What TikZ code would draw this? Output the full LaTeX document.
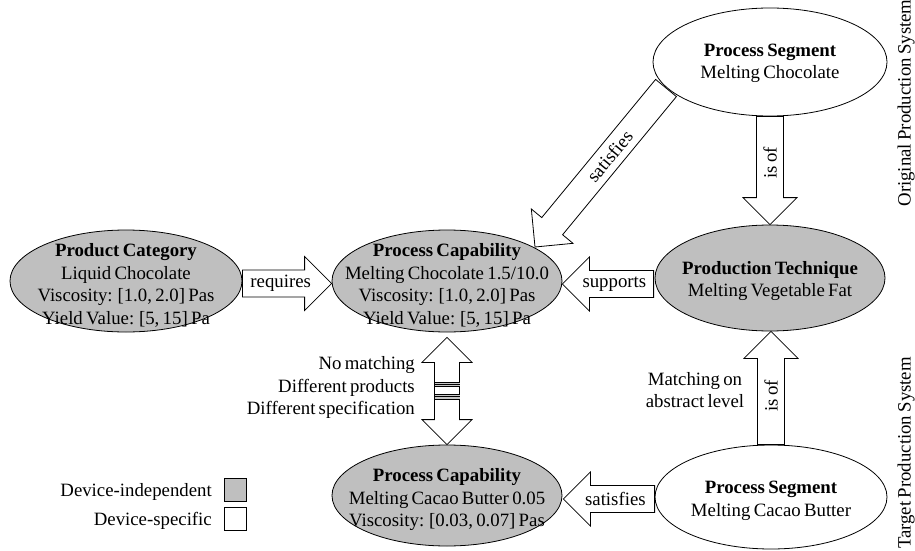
\documentclass[tikz,border=0pt]{standalone}
\usepackage{fontspec}
\setmainfont[WordSpace=0.7]{Liberation Serif}
\usetikzlibrary{calc,shapes.geometric}
\definecolor{devgray}{RGB}{191,191,191}

% block arrow geometry: body half width, head half width, head length
\newcommand\arrbw{13.5pt}
\newcommand\arrhw{27pt}
\newcommand\arrhl{27pt}
% \blockarrow{start}{tip}{label}{label rotation}
\newcommand\blockarrow[4]{%
  \coordinate (ba-s) at #1;
  \coordinate (ba-t) at #2;
  \coordinate (ba-h) at ($(ba-t)!\arrhl!(ba-s)$);
  \draw[barrow] ($(ba-s)!\arrbw!90:(ba-t)$) -- ($(ba-h)!\arrbw!90:(ba-t)$)
    -- ($(ba-h)!\arrhw!90:(ba-t)$) -- (ba-t) -- ($(ba-h)!\arrhw!-90:(ba-t)$)
    -- ($(ba-h)!\arrbw!-90:(ba-t)$) -- ($(ba-s)!\arrbw!-90:(ba-t)$) -- cycle;
  \node[edgelabel, rotate=#4] at ($(ba-s)!0.43!(ba-t)$) {#3};
}

\begin{document}
\begin{tikzpicture}[x=1pt, y=-1pt,
  font=\fontsize{18.8}{22.5}\selectfont,
  ell/.style={ellipse, draw=black, line width=0.8pt, inner sep=0pt},
  indep/.style={ell, fill=devgray},
  spec/.style={ell, fill=white},
  txt/.style={align=center, inner sep=0pt},
  barrow/.style={draw=black, fill=white, line width=0.8pt, line join=miter},
  edgelabel/.style={inner sep=0pt},
  legendbox/.style={draw=black, line width=0.8pt, minimum width=22pt, minimum height=23pt, inner sep=0pt},
]
\useasboundingbox (0,0) rectangle (915,551);
\fill[white] (0,0) rectangle (915,551);

% ellipses
\node[indep, minimum width=232pt, minimum height=102pt] (pcat) at (126,281) {};
\node[txt] (pcatT) at ($(pcat.center)+(0,4.5)$) {\textbf{Product Category}\\Liquid Chocolate\\Viscosity: [1.0, 2.0] Pas\\Yield Value: [5, 15] Pa};

\node[indep, minimum width=230pt, minimum height=102pt] (capA) at (447,281) {};
\node[txt] (capAT) at ($(capA.center)+(0,4.5)$) {\textbf{Process Capability}\\Melting Chocolate 1.5/10.0\\Viscosity: [1.0, 2.0] Pas\\Yield Value: [5, 15] Pa};

\node[indep, minimum width=230pt, minimum height=106pt] (tech) at (770,278) {};
\node[txt] (techT) at ($(tech.center)+(0,3)$) {\textbf{Production Technique}\\Melting Vegetable Fat};

\node[spec, minimum width=234pt, minimum height=108pt] (segA) at (770,62) {};
\node[txt] (segAT) at ($(segA.center)+(0,1.5)$) {\textbf{Process Segment}\\Melting Chocolate};

\node[spec, minimum width=232pt, minimum height=104pt] (segB) at (771,497) {};
\node[txt] (segBT) at ($(segB.center)+(0,4)$) {\textbf{Process Segment}\\Melting Cacao Butter};

\node[indep, minimum width=230pt, minimum height=101pt] (capB) at (447,495.5) {};
\node[txt] (capBT) at ($(capB.center)+(0,4.5)$) {\textbf{Process Capability}\\Melting Cacao Butter 0.05\\Viscosity: [0.03, 0.07] Pas};

% relations
\blockarrow{($(pcat.east)+(0,2.5)$)}{($(capA.west)+(0,2.5)$)}{requires}{0}
\blockarrow{($(tech.west)+(-1,6)$)}{($(capA.east)+(0,3)$)}{supports}{0}
\blockarrow{($(segB.west)+(0,2)$)}{($(capB.east)+(1,3.5)$)}{satisfies}{0}
\blockarrow{(segA.south)}{(tech.north)}{is of}{90}
\blockarrow{(segB.north)}{($(tech.south)+(1,0)$)}{is of}{90}
\blockarrow{($(segA.center)+(-104,26)$)}{($(capA.center)+(88,-34)$)}{satisfies}{50.5}

% broken double arrow between the two capabilities
\coordinate (dt) at ($(capA.south)+(0,5)$);
\coordinate (db) at (capB.north);
\draw[barrow] (dt) -- ($(dt)+(25,25)$) -- ($(dt)+(12.5,25)$) -- ($(db)+(12.5,-25)$)
  -- ($(db)+(25,-25)$) -- (db) -- ($(db)+(-25,-25)$) -- ($(db)+(-12.5,-25)$)
  -- ($(dt)+(-12.5,25)$) -- ($(dt)+(-25,25)$) -- cycle;
\foreach \ya/\yb in {44.5/49, 56.5/61.5} {
  \fill[gray!45] ($(dt)+(-12.5,\ya)$) rectangle ($(dt)+(12.5,\yb)$);
  \draw[line width=0.8pt] ($(dt)+(-12.5,\ya)$) -- ($(dt)+(12.5,\ya)$);
  \draw[line width=0.8pt] ($(dt)+(-12.5,\yb)$) -- ($(dt)+(12.5,\yb)$);
  \draw[line width=0.6pt] ($(dt)+(-12.5,{(\ya+\yb)/2})$) -- ($(dt)+(12.5,{(\ya+\yb)/2})$);
}
\node[txt, align=right, anchor=east] (nomatch) at (415,387.5) {No matching\\Different products\\Different specification};
\node[txt] (abstract) at (695,390) {Matching on\\abstract level};

% legend
\node[legendbox, fill=devgray] (lgA) at (235,489.5) {};
\node[legendbox, fill=white] (lgB) at (235,519) {};
\node[anchor=east, inner sep=0pt] (lgAT) at (212,492) {Device-independent};
\node[anchor=east, inner sep=0pt] (lgBT) at (212,521) {Device-specific};

% system labels
\node[rotate=90, inner sep=0pt] (orig) at (906,103) {Original Production System};
\node[rotate=90, inner sep=0pt] (targ) at (906,453) {Target Production System};
\end{tikzpicture}
\end{document}
